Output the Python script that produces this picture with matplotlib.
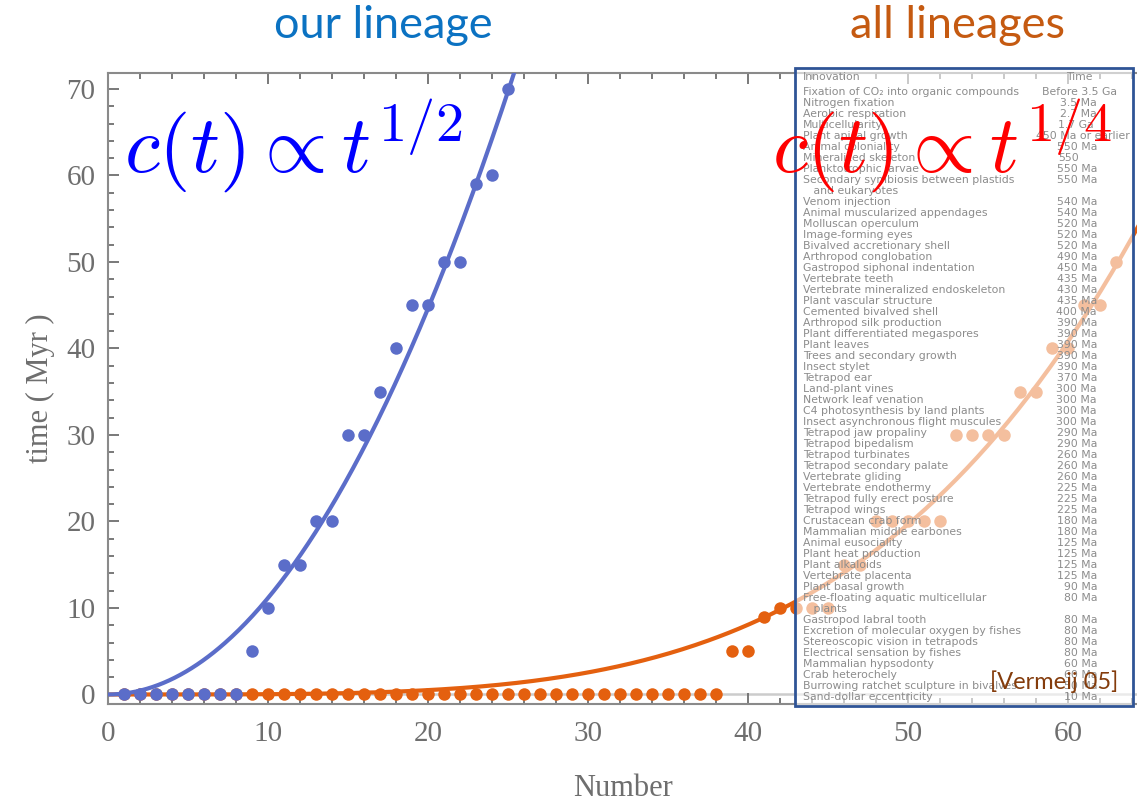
import numpy as np
import matplotlib.pyplot as plt
from matplotlib.patches import Rectangle
from matplotlib.ticker import MultipleLocator

# ----------------------------------------------------------
# DATA
# ----------------------------------------------------------
our_number = np.arange(1, 26)
our_time = [0, 0, 0, 0, 0, 0, 0, 0, 5, 10, 15, 15, 20, 20, 30, 30,
            35, 40, 45, 45, 50, 50, 59, 60, 70]

all_number = np.arange(1, 64)
all_time = [0] * 38 + [5, 5, 9, 10, 10, 10, 10, 15, 15, 20, 20, 20, 20, 20,
                       30, 30, 30, 30, 35, 35, 40, 40, 45, 45, 50]

xticks = [0, 10, 20, 30, 40, 50, 60]
yticks = [0, 10, 20, 30, 40, 50, 60, 70]

innovations = [
    "Fixation of CO\u2082 into organic compounds", "Nitrogen fixation",
    "Aerobic respiration", "Multicellularity", "Plant apical growth",
    "Animal coloniality", "Mineralized skeleton", "Planktotrophic larvae",
    "Secondary symbiosis between plastids", "   and eukaryotes",
    "Venom injection", "Animal muscularized appendages",
    "Molluscan operculum", "Image-forming eyes", "Bivalved accretionary shell",
    "Arthropod conglobation", "Gastropod siphonal indentation",
    "Vertebrate teeth", "Vertebrate mineralized endoskeleton",
    "Plant vascular structure", "Cemented bivalved shell",
    "Arthropod silk production", "Plant differentiated megaspores",
    "Plant leaves", "Trees and secondary growth", "Insect stylet",
    "Tetrapod ear", "Land-plant vines", "Network leaf venation",
    "C4 photosynthesis by land plants", "Insect asynchronous flight muscules",
    "Tetrapod jaw propaliny", "Tetrapod bipedalism", "Tetrapod turbinates",
    "Tetrapod secondary palate", "Vertebrate gliding", "Vertebrate endothermy",
    "Tetrapod fully erect posture", "Tetrapod wings", "Crustacean crab form",
    "Mammalian middle earbones", "Animal eusociality", "Plant heat production",
    "Plant alkaloids", "Vertebrate placenta", "Plant basal growth",
    "Free-floating aquatic multicellular", "   plants",
    "Gastropod labral tooth", "Excretion of molecular oxygen by fishes",
    "Stereoscopic vision in tetrapods", "Electrical sensation by fishes",
    "Mammalian hypsodonty", "Crab heterochely",
    "Burrowing ratchet sculpture in bivalves", "Sand-dollar eccentricity",
]
times = [
    "Before 3.5 Ga", "3.5 Ma", "2.7 Ma", "1.7 Ga", "450 Ma or earlier",
    "550 Ma", "550", "550 Ma", "550 Ma", "", "540 Ma", "540 Ma", "520 Ma",
    "520 Ma", "520 Ma", "490 Ma", "450 Ma", "435 Ma", "430 Ma", "435 Ma",
    "400 Ma", "390 Ma", "390 Ma", "390 Ma", "390 Ma", "390 Ma", "370 Ma",
    "300 Ma", "300 Ma", "300 Ma", "300 Ma", "290 Ma", "290 Ma", "260 Ma",
    "260 Ma", "260 Ma", "225 Ma", "225 Ma", "225 Ma", "180 Ma", "180 Ma",
    "125 Ma", "125 Ma", "125 Ma", "125 Ma", "90 Ma", "80 Ma", "", "80 Ma",
    "80 Ma", "80 Ma", "80 Ma", "60 Ma", "60 Ma", "50 Ma", "10 Ma",
]

blue = "#5b6dc9"
orange = "#e4600f"
gray = "#6e6e6e"

W, H = 1137, 806


def px(x, y):
    # pixel position -> figure fraction
    return x / W, 1 - y / H


# least-squares fits: time ~ a*n^2 and time ~ b*n^4
on = np.asarray(our_number, float)
ot = np.asarray(our_time, float)
a2 = np.sum(ot * on**2) / np.sum(on**4)
an = np.asarray(all_number, float)
at = np.asarray(all_time, float)
a4 = np.sum(at * an**4) / np.sum(an**8)

# ----------------------------------------------------------
# FIGURE
# ----------------------------------------------------------
plt.rcParams["mathtext.fontset"] = "cm"
fig = plt.figure(figsize=(W / 100, H / 100), dpi=100)
ax = fig.add_axes([108 / W, (H - 704) / H, (W - 108) / W, (704 - 72.5) / H])

ax.axhline(0, color="#cccccc", lw=1.8, zorder=1)

xf = np.linspace(0, 64.5, 400)
ax.plot(xf, a4 * xf**4, color=orange, lw=3, zorder=2)
ax.plot(all_number, all_time, "o", color=orange, ms=9, mec="none", zorder=3)
xb = np.linspace(0, 26, 300)
ax.plot(xb, a2 * xb**2, color=blue, lw=3, zorder=4)
ax.plot(our_number, our_time, "o", color=blue, ms=9, mec="none", zorder=5)

ax.set_xlim(0, (W - 108) / 16)
ax.set_ylim(-1.1, 71.9)
ax.set_xticks(xticks)
ax.set_yticks(yticks)
ax.xaxis.set_minor_locator(MultipleLocator(2))
ax.yaxis.set_minor_locator(MultipleLocator(2))
ax.tick_params(which="both", direction="in", top=True, right=False,
               color=gray, width=1.3)
ax.tick_params(which="major", length=7.7)
ax.tick_params(which="minor", length=4.3)
ax.tick_params(axis="y", pad=9)
ax.tick_params(axis="x", pad=12)
for lab in ax.get_xticklabels() + ax.get_yticklabels():
    lab.set_fontfamily("Liberation Serif")
    lab.set_fontsize(21)
    lab.set_color(gray)
for s in ["left", "bottom", "top"]:
    ax.spines[s].set_color("#8a8a8a")
    ax.spines[s].set_linewidth(1.5)
ax.spines["right"].set_visible(False)

ax.set_xlabel("Number", family="Liberation Serif", fontsize=22,
              color=gray, labelpad=20)
ax.set_ylabel("time ( Myr )", family="Liberation Serif", fontsize=22,
              color=gray, labelpad=8)

# titles
fig.text(*px(383, 26), "our lineage", family="Lato", fontsize=32.5,
         color="#0b72c2", ha="center", va="center")
fig.text(*px(958, 26), "all lineages", family="Lato", fontsize=32.5,
         color="#c55a11", ha="center", va="center")

# formula
fig.text(*px(124, 172), r"$c(t) \propto t^{1/2}$", fontsize=58,
         color="#0000ff", ha="left", va="baseline")

# inset table (semi-transparent over the axes)
x0, y0, x1, y1 = 795, 68, 1133, 706
fig.add_artist(Rectangle(px(x0, y1), (x1 - x0) / W, (y1 - y0) / H,
                         transform=fig.transFigure, facecolor="white",
                         alpha=0.6, edgecolor="none", zorder=5))
fig.add_artist(Rectangle(px(x0, y1), (x1 - x0) / W, (y1 - y0) / H,
                         transform=fig.transFigure, facecolor="none",
                         edgecolor="#2f5496", lw=2, zorder=8))

tcol = "#8c8c8c"
fs = 7.8
fig.text(*px(803, 77), "Innovation", fontsize=fs, color=tcol,
         va="center", zorder=6)
fig.text(*px(1066, 77), "Time", fontsize=fs, color=tcol, va="center",
         zorder=6)
for i, (name, t) in enumerate(zip(innovations, times)):
    yy = 92 + i * 11.0
    fig.text(*px(803, yy), name, fontsize=fs, color=tcol, va="center",
             zorder=6)
    if t.startswith("Before") or "earlier" in t or "Ma" not in t:
        xt = {"Before 3.5 Ga": 1042, "450 Ma or earlier": 1036}.get(t, 1058)
        fig.text(*px(xt, yy), t, fontsize=fs, color=tcol, va="center",
                 zorder=6)
    else:
        fig.text(*px(1097, yy), t, fontsize=fs, color=tcol, va="center",
                 ha="right", zorder=6)

fig.text(*px(1118, 682), "[Vermeij 05]", family="Lato", fontsize=17,
         color="#843c0c", ha="right", va="center", zorder=7)

fig.text(*px(772, 172), r"$c(t) \propto t^{1/4}$", fontsize=58,
         color="#ff0000", ha="left", va="baseline", zorder=9)

fig.savefig("out.png", dpi=100)
